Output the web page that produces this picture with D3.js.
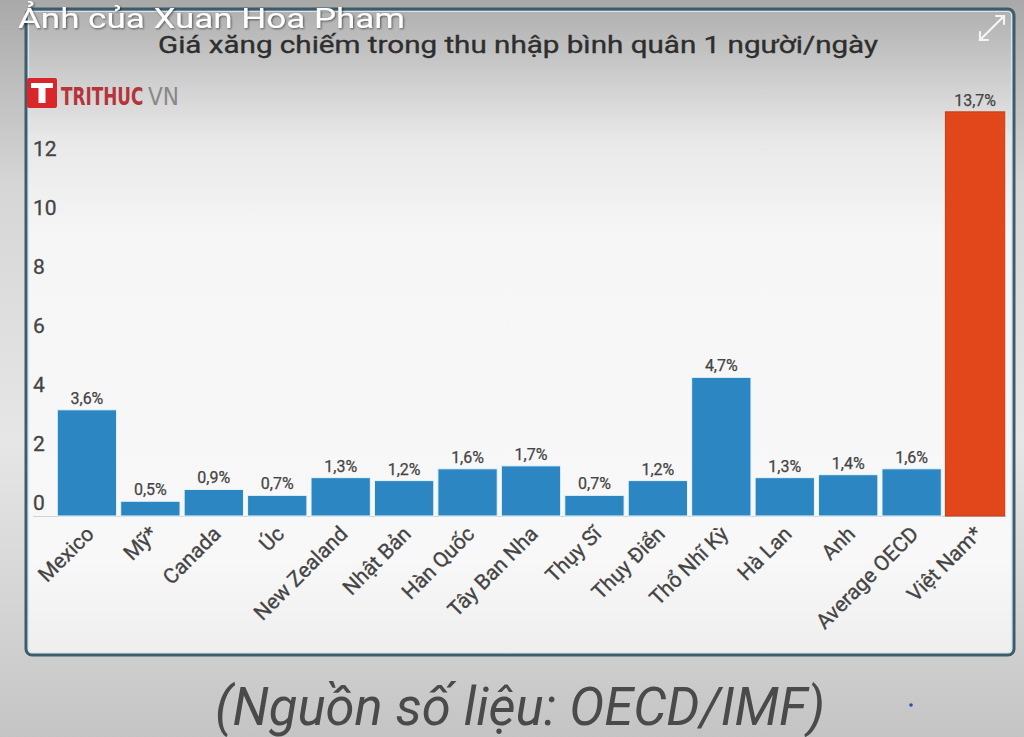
<!DOCTYPE html>
<html><head><meta charset="utf-8">
<script src="https://cdn.jsdelivr.net/npm/d3@7"></script>
<style>html,body{margin:0;padding:0;background:#c8c8c8;overflow:hidden}svg{display:block}</style>
</head><body>
<script>
const categories = ["Mexico","Mỹ*","Canada","Úc","New Zealand","Nhật Bản","Hàn Quốc","Tây Ban Nha","Thụy Sĩ","Thụy Điển","Thổ Nhĩ Kỳ","Hà Lan","Anh","Average OECD","Việt Nam*"];
const values = [3.6,0.5,0.9,0.7,1.3,1.2,1.6,1.7,0.7,1.2,4.7,1.3,1.4,1.6,13.7];
const valueLabels = ["3,6%","0,5%","0,9%","0,7%","1,3%","1,2%","1,6%","1,7%","0,7%","1,2%","4,7%","1,3%","1,4%","1,6%","13,7%"];
const yTicks = [0,2,4,6,8,10,12];
const title = "Giá xăng chiếm trong thu nhập bình quân 1 người/ngày";
const source = "(Nguồn số liệu: OECD/IMF)";
const watermark = "Ảnh của Xuan Hoa Pham";

const W = 1024, H = 737;
const svg = d3.select("body").append("svg").attr("width", W).attr("height", H);
const defs = svg.append("defs");

const gOut = defs.append("linearGradient").attr("id","gOut").attr("x1",0).attr("y1",0).attr("x2",0).attr("y2",1);
[[0,"#a9a9a9"],[0.25,"#d6d6d6"],[0.6,"#e6e6e6"],[0.85,"#d2d2d2"],[1,"#c4c4c4"]].forEach(s=>gOut.append("stop").attr("offset",s[0]).attr("stop-color",s[1]));
const gCard = defs.append("linearGradient").attr("id","gCard").attr("x1",0).attr("y1",0).attr("x2",0).attr("y2",1);
[[0,"#b0b0b0"],[0.08,"#c6c6c6"],[0.2,"#e8e8e8"],[0.35,"#f6f6f6"],[0.85,"#f8f8f8"],[1,"#eeeeee"]].forEach(s=>gCard.append("stop").attr("offset",s[0]).attr("stop-color",s[1]));
const shadow = defs.append("filter").attr("id","sh").attr("x","-10%").attr("y","-50%").attr("width","120%").attr("height","200%");
shadow.append("feDropShadow").attr("dx",1).attr("dy",1).attr("stdDeviation",1.2).attr("flood-color","#000").attr("flood-opacity",0.55);

svg.append("rect").attr("width",W).attr("height",H).attr("fill","url(#gOut)");

// card
const card = {x:26, y:9, w:988, h:646};
svg.append("rect").attr("x",card.x).attr("y",card.y).attr("width",card.w).attr("height",card.h)
  .attr("rx",6).attr("fill","url(#gCard)").attr("stroke","#3e5b68").attr("stroke-width",3);
svg.append("rect").attr("x",card.x+2.5).attr("y",card.y+2.5).attr("width",card.w-5).attr("height",card.h-5)
  .attr("rx",4).attr("fill","none").attr("stroke","#cfe8f2").attr("stroke-width",1.2);

// scales
const x = d3.scaleBand().domain(categories).range([56,1006]).paddingInner(0.065).paddingOuter(0.02);
const y = d3.scaleLinear().domain([0,12]).range([516,162]);

// title
svg.append("text").attr("x",158).attr("y",53)
  .attr("font-family","Roboto, 'Noto Sans', sans-serif").attr("font-size",24)
  .attr("fill","#2e2e2e").attr("stroke","#2e2e2e").attr("stroke-width",0.35)
  .attr("textLength",720).attr("lengthAdjust","spacingAndGlyphs").text(title);

// logo
const logo = svg.append("g");
logo.append("rect").attr("x",27).attr("y",78).attr("width",30).attr("height",30).attr("fill","#d8262b").attr("rx",2);
logo.append("rect").attr("x",31).attr("y",83).attr("width",22).attr("height",5).attr("fill","#fff");
logo.append("rect").attr("x",38.5).attr("y",88).attr("width",7).attr("height",15).attr("fill","#fff");
logo.append("text").attr("transform","translate(61,105) scale(0.78,1)")
  .attr("font-family","'Liberation Sans Narrow','DejaVu Sans Condensed',sans-serif")
  .attr("font-size",24).attr("font-weight","bold").attr("fill","#b5333a").text("TRITHUC");
logo.append("text").attr("x",148).attr("y",105)
  .attr("font-family","'Liberation Sans Narrow','DejaVu Sans Condensed',sans-serif")
  .attr("font-size",24).attr("fill","#888").text("VN");

// y axis labels (drawn above tick positions)
svg.append("g").selectAll("text").data(yTicks).join("text")
  .attr("x",33).attr("y",d=>y(d)-14).attr("dy","0.36em")
  .attr("font-family","Roboto, sans-serif").attr("font-size",21).attr("fill","#444")
  .attr("stroke","#444").attr("stroke-width",0.3).text(d=>d);
svg.append("line").attr("x1",33).attr("x2",1006).attr("y1",y(0)+0.5).attr("y2",y(0)+0.5).attr("stroke","#c8d4d8").attr("stroke-width",1);

// bars
svg.append("g").selectAll("rect").data(values).join("rect")
  .attr("x",(d,i)=>x(categories[i])).attr("width",x.bandwidth())
  .attr("y",d=>y(d)).attr("height",d=>y(0)-y(d))
  .attr("fill",(d,i)=>i===categories.length-1?"#e2461b":"#2b86c2")
  .attr("stroke",(d,i)=>i===categories.length-1?"#c53c18":"#e8f6fb").attr("stroke-width",1);

// value labels
svg.append("g").selectAll("text").data(values).join("text")
  .attr("x",(d,i)=>x(categories[i])+x.bandwidth()/2).attr("y",d=>y(d)-6)
  .attr("text-anchor","middle").attr("font-family","Roboto, sans-serif").attr("font-size",16)
  .attr("fill","#444").attr("stroke","#444").attr("stroke-width",0.25).text((d,i)=>valueLabels[i]);

// x labels
svg.append("g").selectAll("text").data(categories).join("text")
  .attr("transform",d=>`translate(${x(d)+x.bandwidth()/2+3},${530}) rotate(-45)`)
  .attr("text-anchor","end").attr("dy","0.35em")
  .attr("font-family","Roboto, sans-serif").attr("font-size",21).attr("fill","#444")
  .attr("stroke","#444").attr("stroke-width",0.3).text(d=>d);

// expand icon
const ic = svg.append("g").attr("stroke","#f4f4f4").attr("stroke-width",2.2).attr("fill","none").attr("stroke-linecap","round");
ic.append("line").attr("x1",980).attr("y1",40).attr("x2",1004).attr("y2",16);
ic.append("path").attr("d","M996,16 L1004,16 L1004,24");
ic.append("path").attr("d","M980,32 L980,40 L988,40");

// watermark
svg.append("text").attr("x",18).attr("y",28).attr("font-family","Roboto, sans-serif").attr("font-size",28)
  .attr("fill","#fff").attr("filter","url(#sh)").attr("textLength",387).attr("lengthAdjust","spacingAndGlyphs").text(watermark);

// source
svg.append("text").attr("x",215).attr("y",725).attr("font-family","Roboto, sans-serif").attr("font-style","italic")
  .attr("font-size",54).attr("fill","#4a4a4a").attr("textLength",610).attr("lengthAdjust","spacingAndGlyphs").text(source);
svg.append("circle").attr("cx",911).attr("cy",705).attr("r",1.8).attr("fill","#2a4fb0");
</script>
</body></html>
